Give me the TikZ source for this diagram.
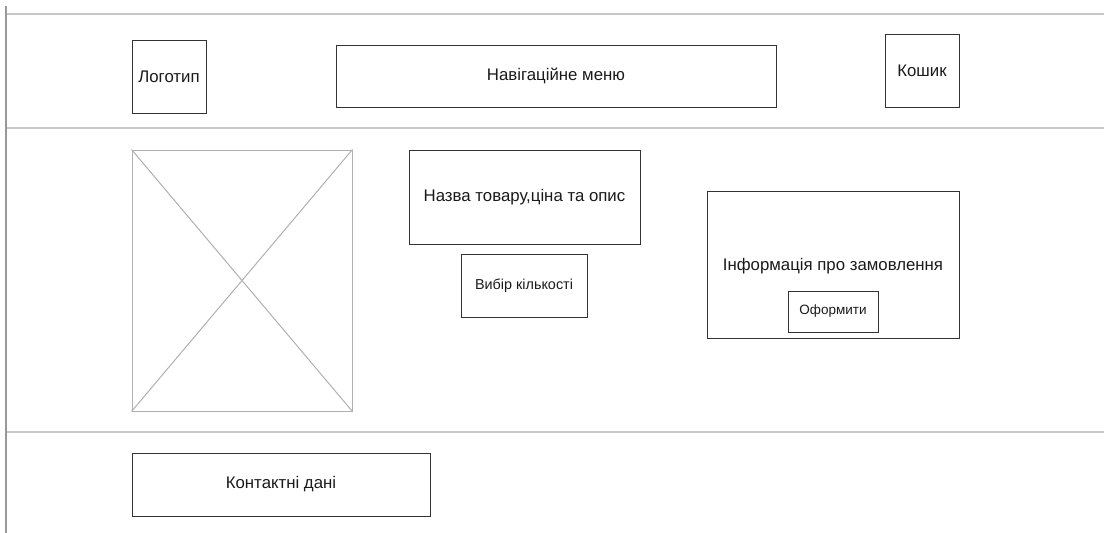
\documentclass[tikz,border=0pt]{standalone}
\usepackage{fontspec}
\setmainfont{Liberation Sans}
\definecolor{boxline}{HTML}{333333}
\definecolor{sepline}{HTML}{C8C8C8}
\definecolor{imgline}{HTML}{B0B0B0}
\definecolor{txt}{HTML}{1A1A1A}
\tikzset{
  box/.style={draw=boxline, line width=1pt, rectangle, inner sep=0pt, text=txt, font=\fontsize{16.8}{20}\selectfont},
  smallbox/.style={box, font=\fontsize{13.5}{16}\selectfont},
  midbox/.style={box, font=\fontsize{14.4}{17}\selectfont},
  imgbox/.style={draw=imgline, line width=1pt, rectangle, inner sep=0pt},
  sep/.style={draw=sepline, line width=1.6pt},
  vline/.style={draw=gray!80, line width=1.2pt}
}
\begin{document}
\begin{tikzpicture}[x=1pt,y=-1pt]
\useasboundingbox (0,0) rectangle (1104,533);
% frame lines
\coordinate (vt) at (6,6);
\coordinate (vb) at (6,533);
\draw[vline] (vt) -- (vb);
\coordinate (h1l) at (7,14);   \coordinate (h1r) at (1104,14);
\coordinate (h2l) at (7,128);  \coordinate (h2r) at (1104,128);
\coordinate (h3l) at (7,432);  \coordinate (h3r) at (1104,432);
\draw[sep] (h1l) -- (h1r);
\draw[sep] (h2l) -- (h2r);
\draw[sep] (h3l) -- (h3r);
% header
\node[box, minimum width=74pt, minimum height=73pt] (logo) at (169,76.5) {Логотип};
\node[box, minimum width=440pt, minimum height=62pt] (nav) at (556,76) {Навігаційне меню};
\node[box, minimum width=74pt, minimum height=73pt] (cart) at (922,70.5) {Кошик};
% image placeholder
\node[imgbox, minimum width=220pt, minimum height=261pt] (img) at (242,280.5) {};
\draw[draw=imgline, line width=1pt] (img.north west) -- (img.south east);
\draw[draw=imgline, line width=1pt] (img.north east) -- (img.south west);
% product
\node[box, minimum width=231pt, minimum height=94pt] (title) at (524.5,197) {Назва товару,ціна та опис};
\node[midbox, minimum width=126pt, minimum height=63pt] (qty) at (524,285.5) {Вибір кількості};
% order info
\node[box, minimum width=252pt, minimum height=147pt] (order) at (833,264.5) {};
\node[text=txt, font=\fontsize{16.8}{20}\selectfont, inner sep=0pt] (ordertxt) at (833,266) {Інформація про замовлення};
\node[smallbox, minimum width=90pt, minimum height=41pt] (buy) at (833,311.5) {Оформити};
% footer
\node[box, minimum width=298pt, minimum height=63pt] (contact) at (281,484.5) {Контактні дані};
\end{tikzpicture}
\end{document}
